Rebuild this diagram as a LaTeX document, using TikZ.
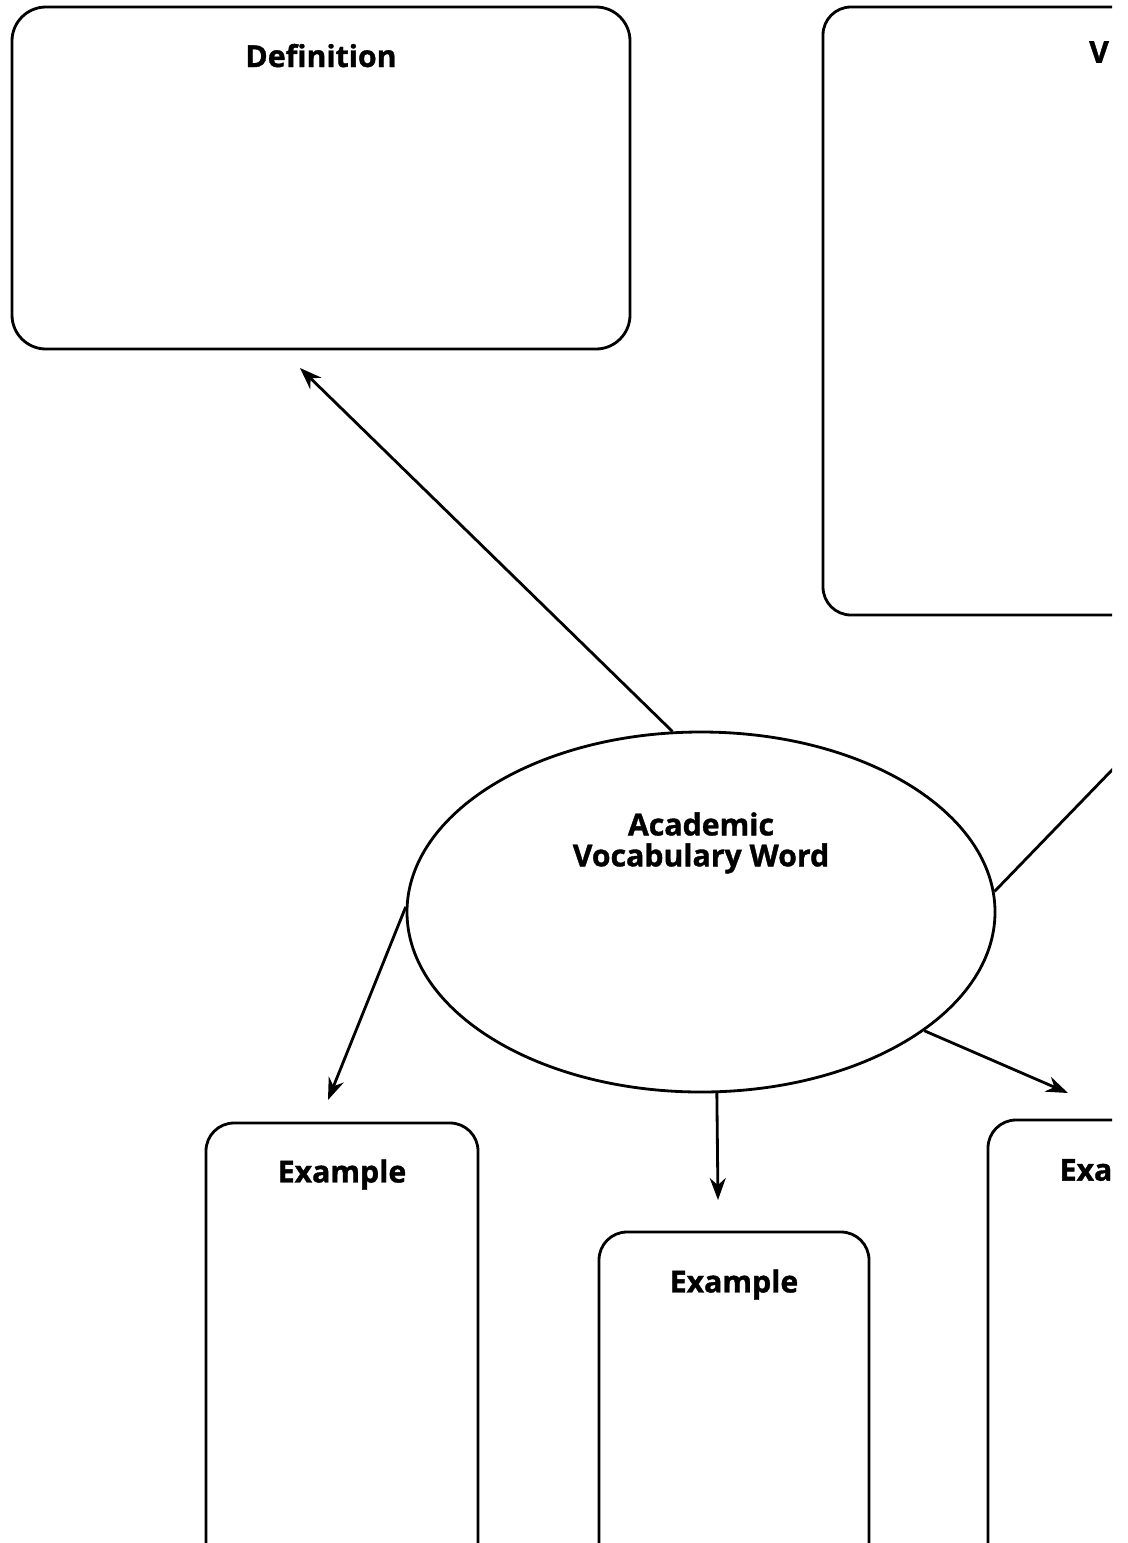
\documentclass[tikz,border=0pt]{standalone}
\usepackage{fontspec}
\setmainfont{Open Sans}[BoldFeatures={FakeBold=1.2}]
\usetikzlibrary{arrows.meta,shapes.geometric,positioning}

\begin{document}
\begin{tikzpicture}[x=0.25mm, y=-0.25mm,
    panel/.style={draw=black, line width=2pt, rounded corners=7mm, inner sep=0pt},
    word/.style={draw=black, line width=2pt, ellipse, inner sep=0pt, minimum width=147mm, minimum height=90mm},
    title/.style={font=\fontsize{21.5}{22}\selectfont\bfseries, align=center, inner sep=0pt},
    link/.style={-{Stealth[length=5.5mm, width=4mm]}, line width=2pt, draw=black},
    plain/.style={line width=2pt, draw=black}
]
    \useasboundingbox (0,0) rectangle (1128,1543);
    \clip (0,0) rectangle (1112,1543);

    % Boxes
    \node[panel, rounded corners=8.5mm, minimum width=154.5mm, minimum height=85.5mm] (def) at (321,178) {};
    \node[panel, minimum width=150mm, minimum height=152mm] (vis) at (1123,311) {};
    \node[panel, minimum width=68mm, minimum height=150mm] (ex1) at (342,1423) {};
    \node[panel, minimum width=67.5mm, minimum height=150mm] (ex2) at (734,1532) {};
    \node[panel, minimum width=68mm, minimum height=150mm] (ex3) at (1124,1420) {};

    % Titles
    \node[title] (deft) at ([yshift=-12.5mm]def.north) {Definition};
    \node[title] (vist) at (1099,52) {V};
    \node[title] (ex1t) at ([yshift=-13.25mm]ex1.north) {Example};
    \node[title] (ex2t) at ([yshift=-13.5mm]ex2.north) {Example};
    \node[title] (ex3t) at (1086,1170) {Exa};

    % Centre word
    \node[word] (word) at (701,912) {};
    \node[title] (wordt) at ([yshift=17.25mm]word.center) {Academic\\Vocabulary Word};

    % Arrow ends
    \coordinate (defend) at (300,368);
    \coordinate (visend) at (1200,679);
    \coordinate (ex1end) at (328,1100);
    \coordinate (ex2end) at (718,1200);
    \coordinate (ex3end) at (1068,1093);

    % Connectors
    \draw[link] (word.99.5) -- (defend);
    \draw[plain] (word.4.7) -- (visend);
    \draw[link] (word.179.6) -- (ex1end);
    \draw[link] (word.275) -- (ex2end);
    \draw[link] (word.-28.5) -- (ex3end);
\end{tikzpicture}
\end{document}
